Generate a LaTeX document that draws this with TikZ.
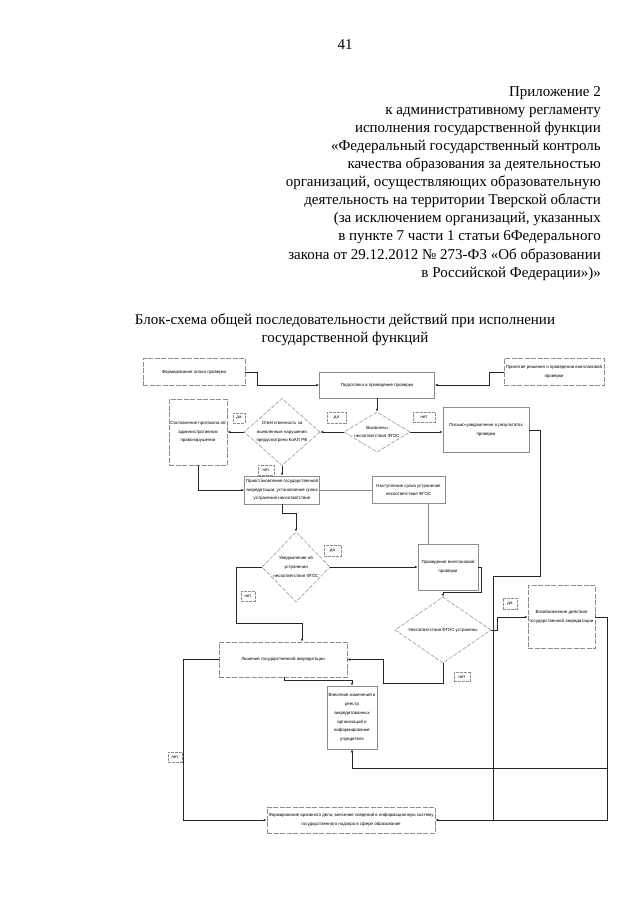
\documentclass[tikz,border=0pt]{standalone}
\usepackage{fontspec}
\setmainfont{Liberation Serif}
\newfontfamily\fcsans{Liberation Sans}
\usetikzlibrary{shapes.geometric,arrows.meta}
\begin{document}
\begin{tikzpicture}[x=1pt,y=-1pt,
  fc/.style={font=\fcsans\fontsize{4.4}{8.8}\selectfont, align=center, inner sep=0.5pt},
  boxs/.style={fc, rectangle, draw=black!45, line width=0.5pt},
  boxd/.style={boxs, dash pattern=on 5pt off 1.5pt},
  dia/.style={diamond, draw=black!45, dash pattern=on 4pt off 1.5pt, line width=0.5pt, inner sep=0pt},
  yn/.style={fc, draw=black!45, dash pattern=on 3pt off 1pt, line width=0.4pt},
  conn/.style={draw=black!85, line width=0.8pt},
  thin/.style={draw=black!45, line width=0.8pt},
  arr/.style={conn, -{Latex[length=3pt,width=2.4pt]}}
]
\useasboundingbox[fill=white] (0,0) rectangle (640,905);

% header
\node[inner sep=0pt, font=\fontsize{15}{18}\selectfont] (pg) at (345,45) {41};
\node[anchor=north east, align=right, inner sep=0pt, font=\fontsize{15}{18.1}\selectfont] (hdr) at (601,86)
 {Приложение 2\\к административному регламенту\\исполнения государственной функции\\«Федеральный государственный контроль\\качества образования за деятельностью\\организаций, осуществляющих образовательную\\деятельность на территории Тверской области\\(за исключением организаций, указанных\\в пункте 7 части 1 статьи 6Федерального\\закона от 29.12.2012 № 273-ФЗ «Об образовании\\в Российской Федерации»)»};
\node[align=center, inner sep=0pt, font=\fontsize{15}{18.1}\selectfont] (ttl) at (345,330)
 {Блок-схема общей последовательности действий при исполнении\\государственной функций};

% boxes
\node[boxd, minimum width=102, minimum height=27] (plan) at (194,372) {Формирование плана проверки};
\node[boxs, minimum width=115, minimum height=26] (prep) at (377,385) {Подготовка и проведение проверки};
\node[boxd, minimum width=100, minimum height=27] (decis) at (554,372) {Принятие решения о проведении внеплановой\\проверки};
\node[dia, minimum width=66, minimum height=40] (d1) at (377,432) {};
\node[fc] (d1t) at (d1) {Выявлены\\несоответствия ФГОС};
\node[dia, minimum width=76, minimum height=67] (d2) at (282,432) {};
\node[fc] (d2t) at (d2) {Ответственность за\\выявленные нарушения\\предусмотрено КоАП РФ};
\node[boxd, minimum width=58, minimum height=66] (prot) at (198,432) {Составление протокола об\\административном\\правонарушении};
\node[boxs, minimum width=86, minimum height=45] (letter) at (486,430) {Письмо-уведомление о результатах\\проверки};
\node[boxs, minimum width=75, minimum height=28] (susp) at (282,490) {Приостановление государственной\\аккредитации, установление срока\\устранения несоответствия};
\node[boxs, minimum width=73, minimum height=27] (term) at (408.5,490) {Наступление срока устранения\\несоответствия ФГОС};
\node[dia, minimum width=68, minimum height=70] (d3) at (296,567) {};
\node[fc] (d3t) at (d3) {Уведомление об\\устранении\\несоответствия ФГОС};
\node[boxs, minimum width=60, minimum height=46] (insp) at (448,567) {Проведение внеплановой\\проверки};
\node[dia, minimum width=96, minimum height=66] (d4) at (443,630) {};
\node[fc] (d4t) at (d4) {Несоответствия ФГОС устранены};
\node[boxd, minimum width=67, minimum height=63] (resume) at (561.5,617) {Возобновление действия\\государственной аккредитации};
\node[boxd, minimum width=128, minimum height=35] (depr) at (283,659.5) {Лишение государственной аккредитации};
\node[boxs, minimum width=50, minimum height=63] (reg) at (352,717.5) {Внесение изменений в\\реестр\\аккредитованных\\организаций и\\информирование\\учредителя};
\node[boxd, minimum width=168, minimum height=26] (arch) at (351,820) {Формирование архивного дела, внесение сведений в информационную систему\\государственного надзора в сфере образования};

% yes/no labels
\node[yn, minimum width=19, minimum height=11] (l1) at (336.5,417.5) {да};
\node[yn, minimum width=22, minimum height=10] (l2) at (424,417) {нет};
\node[yn, minimum width=12, minimum height=10] (l3) at (239,418) {да};
\node[yn, minimum width=16, minimum height=10] (l4) at (266,470) {нет};
\node[yn, minimum width=17, minimum height=11] (l5) at (332.5,550.5) {да};
\node[yn, minimum width=14, minimum height=10] (l6) at (248,596) {нет};
\node[yn, minimum width=14, minimum height=11] (l7) at (510,603.5) {да};
\node[yn, minimum width=16, minimum height=9] (l8) at (462,677) {нет};
\node[yn, minimum width=14, minimum height=10] (l9) at (175,757) {нет};

% helper coordinates
\coordinate (c14) at (302,623);
\coordinate (c16) at (493,576);
\coordinate (c16b) at (493,820);
\coordinate (c17) at (383,683);
\coordinate (c21) at (607,768);

% connectors
\draw[arr] (plan.east) -- ++(12,0) |- (prep.west);
\draw[arr] (decis.west) -- ++(-14,0) |- (prep.east);
\draw[arr] (prep.south) -- (d1.north);
\draw[arr] (d1.west) -- (d2.east);
\draw[arr] (d2.west) -- (prot.east);
\draw[arr] (d1.east) -- (d1.east -| letter.west);
\draw[arr] (d2.south) -- (susp.north);
\draw[arr] (prot.south) |- (susp.west);
\draw[thin] (susp.east) -- (term.west);
\draw[thin] ([xshift=19.5pt]term.south) -- ([xshift=19.5pt]term.south |- insp.north);
\draw[arr] (susp.south) -- ++(0,9) -| (d3.north);
\draw[arr] (d3.east) -- (insp.west);
\draw[arr] (insp.east) -| ++(3,25) -| (d4.north);
\draw[arr] (d3.west) -- ++(-25,0) |- (c14) -- (c14 |- depr.north);
\draw[arr] (d4.east) -- ++(6,0) |- (resume.west);
\draw[conn] (letter.east) -- ++(11,0) |- (c16) -- (c16b);
\draw[arr] (d4.south) |- (c17) |- (depr.east);
\draw[arr] (depr.west) -- ++(-35,0) |- (arch.west);
\draw[arr] ([xshift=1pt]depr.south) -- ++(0,3) -| (reg.north);
\draw[arr] (resume.east) -- ++(12,0) |- (arch.east);
\draw[arr] (c21) -| (reg.south);
\end{tikzpicture}
\end{document}
